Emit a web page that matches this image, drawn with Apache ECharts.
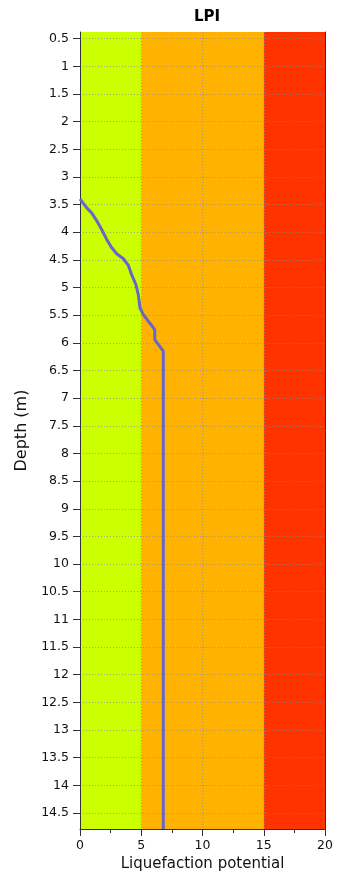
<!DOCTYPE html>
<html>
<head>
<meta charset="utf-8">
<script src="https://cdn.jsdelivr.net/npm/echarts@6/dist/echarts.min.js"></script>
<style>html,body{margin:0;padding:0;background:#fff;}#c{width:340px;height:881px;}</style>
</head>
<body>
<div id="c"></div>
<script>
const depths = [3.40, 3.56, 3.65, 3.79, 3.95, 4.13, 4.28, 4.39, 4.48, 4.60, 4.77, 4.95, 5.13, 5.37, 5.49, 5.61, 5.76, 5.94, 6.03, 6.15, 14.79];
const lpiValues = [0, 0.55, 0.95, 1.36, 1.77, 2.18, 2.59, 3.0, 3.54, 3.95, 4.22, 4.57, 4.76, 4.9, 5.17, 5.58, 6.1, 6.1, 6.4, 6.8, 6.8];
const depthTicks = [0.5,1,1.5,2,2.5,3,3.5,4,4.5,5,5.5,6,6.5,7,7.5,8,8.5,9,9.5,10,10.5,11,11.5,12,12.5,13,13.5,14,14.5];
const bandEdges = [0, 5, 15, 20];
const bandColors = ['#CCFF00', '#FFB300', '#FF3300'];

const font = 'DejaVu Sans';
const chart = echarts.init(document.getElementById('c'));
const lineData = depths.map((d, i) => [lpiValues[i], d]);
const areas = [];
for (let i = 0; i < bandColors.length; i++) {
  areas.push([{ xAxis: bandEdges[i], itemStyle: { color: bandColors[i], opacity: 1 } }, { xAxis: bandEdges[i + 1] }]);
}
const gridStyle = { color: '#8C8C8C', type: [1, 2], width: 1, opacity: 0.75 };
chart.setOption({
  animation: false,
  title: { text: 'LPI', left: 202, top: 5, textAlign: 'center',
    textStyle: { fontFamily: font, fontSize: 15, fontWeight: 'bold', color: '#000' } },
  grid: { left: 80, right: 15, top: 32, bottom: 52 },
  xAxis: {
    type: 'value', min: 0, max: 20, interval: 5, z: 2,
    name: 'Liquefaction potential', nameLocation: 'middle', nameGap: 27,
    nameTextStyle: { fontFamily: font, fontSize: 15, color: '#111' },
    axisLine: { show: true, lineStyle: { color: '#333', width: 1 } },
    axisTick: { show: true, length: 7, lineStyle: { color: '#333' } },
    minorTick: { show: true, splitNumber: 2, length: 4, lineStyle: { color: '#333' } },
    axisLabel: { fontFamily: font, fontSize: 12.5, color: '#111', margin: 10 },
    splitLine: { show: true, lineStyle: gridStyle }
  },
  yAxis: [{
    type: 'value', inverse: true, min: 0.38, max: 14.79, z: 2,
    name: 'Depth (m)', nameLocation: 'middle', nameGap: 50,
    nameTextStyle: { fontFamily: font, fontSize: 16, color: '#111' },
    axisLine: { show: true, lineStyle: { color: '#333', width: 1 } },
    axisTick: { show: true, length: 7, customValues: depthTicks, lineStyle: { color: '#333' } },
    axisLabel: { fontFamily: font, fontSize: 12.5, color: '#111', margin: 11, customValues: depthTicks },
    splitLine: { show: true, lineStyle: gridStyle }
  }, {
    type: 'value', inverse: true, min: 0.38, max: 14.79, position: 'right', z: 2,
    axisLine: { show: true, onZero: false, lineStyle: { color: '#333', width: 1 } },
    axisTick: { show: false }, axisLabel: { show: false }, splitLine: { show: false }
  }],
  series: [{
    type: 'line', data: [], z: 0, silent: true,
    markArea: { silent: true, z: 0, data: areas }
  }, {
    type: 'line', data: lineData, z: 3, showSymbol: false, symbol: 'none',
    lineStyle: { color: '#6666CC', width: 3 }
  }]
});
</script>
</body>
</html>
